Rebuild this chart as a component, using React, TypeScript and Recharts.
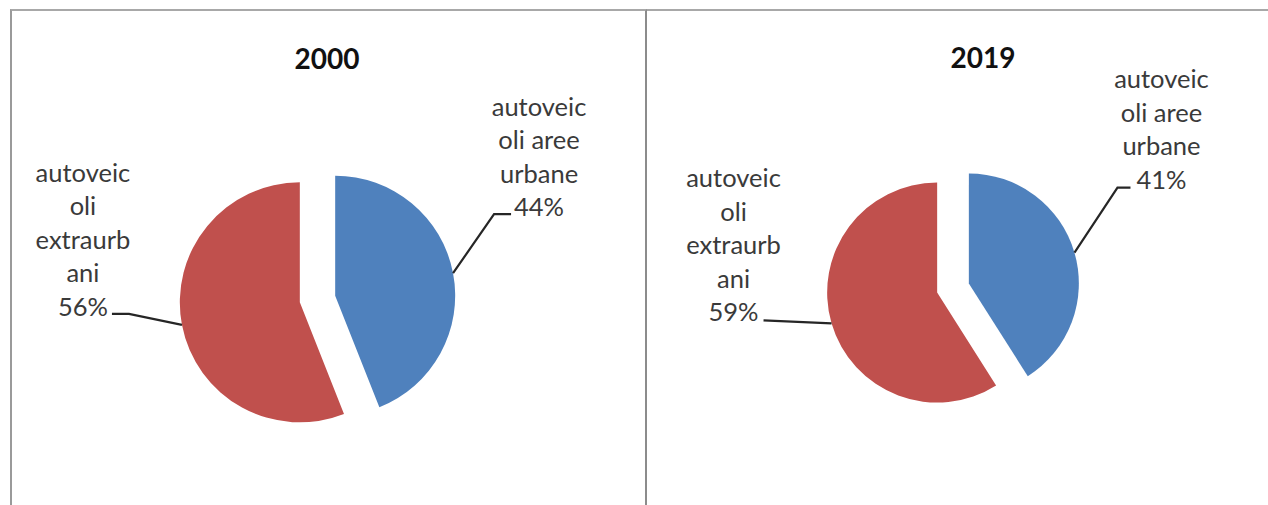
import { Cell, Pie, PieChart, Sector } from "recharts";

const CATEGORIES = ["autoveicoli aree urbane", "autoveicoli extraurbani"];
const LABEL_LINES = [
  ["autoveic", "oli aree", "urbane"],
  ["autoveic", "oli", "extraurb", "ani"],
];
const YEARS = ["2000", "2019"];
const SHARES_2000 = [44, 56];
const SHARES_2019 = [41, 59];

const COLORS = ["#4F81BD", "#C0504D"];
const FONT = "Lato, 'Open Sans', sans-serif";
const LINE_H = 33.5;
const RAD = Math.PI / 180;

// leader bends and text block, relative to the point on the arc at the mid angle
type LabelLayout = { leader: number[][]; textX: number; lastY: number };

const LAYOUT_2000: LabelLayout[] = [
  { leader: [[41, -59], [58, -59]], textX: 86, lastY: -67 },
  { leader: [[-53, -11], [-70, -11]], textX: -99, lastY: -19 },
];
const LAYOUT_2019: LabelLayout[] = [
  { leader: [[43, -65], [56, -65]], textX: 87, lastY: -74 },
  { leader: [[-68, -3]], textX: -98, lastY: -12 },
];

interface PanelProps {
  year: string;
  shares: number[];
  left: number;
  width: number;
  cx: number;
  cy: number;
  radius: number;
  explode: number;
  titleX: number;
  titleY: number;
  layout: LabelLayout[];
}

function YearPie({ year, shares, left, width, cx, cy, radius, explode, titleX, titleY, layout }: PanelProps) {
  const data = CATEGORIES.map((name, i) => ({ name, value: shares[i], lines: LABEL_LINES[i] }));

  const shift = (midAngle: number) => ({
    dx: explode * Math.cos(-midAngle * RAD),
    dy: explode * Math.sin(-midAngle * RAD),
  });

  const renderSector = (props: any) => {
    const { dx, dy } = shift(props.midAngle);
    return <Sector {...props} cx={props.cx + dx} cy={props.cy + dy} />;
  };

  const renderLabel = (props: any) => {
    const { cx: pcx, cy: pcy, midAngle, outerRadius, percent, index, payload } = props;
    const { dx, dy } = shift(midAngle);
    const ax = pcx + dx + outerRadius * Math.cos(-midAngle * RAD);
    const ay = pcy + dy + outerRadius * Math.sin(-midAngle * RAD);
    const lay = layout[index];
    const pts = [[ax, ay], ...lay.leader.map(([x, y]) => [ax + x, ay + y])];
    const lines: string[] = [...(payload.lines ?? LABEL_LINES[index]), `${Math.round(percent * 100)}%`];
    const n = lines.length;
    return (
      <g>
        <polyline
          points={pts.map((p) => p.join(",")).join(" ")}
          fill="none"
          stroke="#262626"
          strokeWidth={2.2}
        />
        <text
          x={ax + lay.textX}
          textAnchor="middle"
          fill="#3a3a3a"
          fontFamily={FONT}
          fontSize={25.5}
        >
          {lines.map((l, i) => (
            <tspan key={i} x={ax + lay.textX} y={ay + lay.lastY - (n - 1 - i) * LINE_H} dominantBaseline="central">
              {l}
            </tspan>
          ))}
        </text>
      </g>
    );
  };

  return (
    <div style={{ position: "absolute", left, top: 0, width, height: 505 }}>
      <div
        style={{
          position: "absolute",
          left: titleX - left - 60,
          top: titleY - 18,
          width: 120,
          textAlign: "center",
          fontFamily: FONT,
          fontWeight: 700,
          fontSize: 28,
          lineHeight: "36px",
          color: "#111",
        }}
      >
        {year}
      </div>
      <PieChart
        width={width}
        height={505}
        margin={{ top: 0, right: 0, bottom: 0, left: 0 }}
        style={{ position: "absolute", left: 0, top: 0 }}
      >
        <Pie
          data={data}
          dataKey="value"
          nameKey="name"
          cx={cx}
          cy={cy}
          outerRadius={radius}
          startAngle={90}
          endAngle={-270}
          stroke="none"
          shape={renderSector}
          activeShape={renderSector}
          inactiveShape={renderSector}
          label={renderLabel}
          labelLine={false}
          isAnimationActive={false}
        >
          {data.map((_, i) => (
            <Cell key={i} fill={COLORS[i]} />
          ))}
        </Pie>
      </PieChart>
    </div>
  );
}

export default function App() {
  return (
    <div
      style={{
        position: "absolute",
        left: 0,
        top: 0,
        width: 1268,
        height: 505,
        overflow: "hidden",
        background: "#fff",
      }}
    >
      <div
        style={{
          position: "absolute",
          left: 10,
          top: 9,
          width: 633,
          height: 520,
          borderTop: "2px solid #a8a8a8",
          borderLeft: "2px solid #9a9a9a",
          borderRight: "2px solid #8c8c8c",
        }}
      />
      <div
        style={{
          position: "absolute",
          left: 647,
          top: 9,
          width: 640,
          height: 520,
          borderTop: "2px solid #a8a8a8",
        }}
      />
      <YearPie
        year={YEARS[0]}
        shares={SHARES_2000}
        left={0}
        width={646}
        cx={317.5}
        cy={299}
        radius={120}
        explode={18}
        titleX={327}
        titleY={58}
        layout={LAYOUT_2000}
      />
      <YearPie
        year={YEARS[1]}
        shares={SHARES_2019}
        left={646}
        width={622}
        cx={307}
        cy={288}
        radius={110}
        explode={16.5}
        titleX={983}
        titleY={57}
        layout={LAYOUT_2019}
      />
    </div>
  );
}
